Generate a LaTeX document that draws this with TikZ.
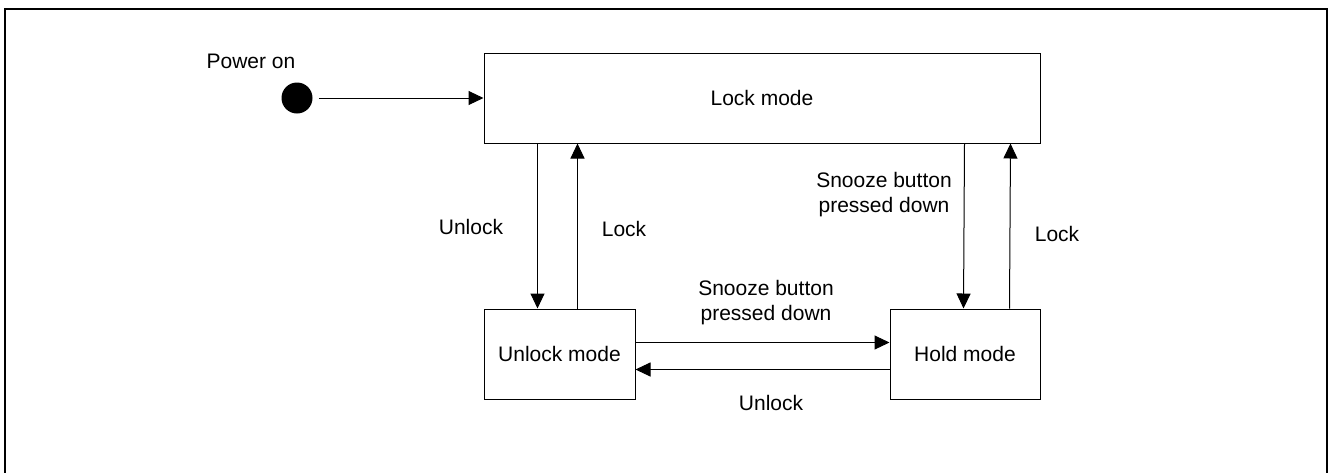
\documentclass[tikz,border=0pt]{standalone}
\usepackage{fontspec}
\setmainfont{Liberation Sans}
\usetikzlibrary{arrows.meta,calc}
\begin{document}
\begin{tikzpicture}[x=0.5pt,y=-0.5pt,
  every node/.style={font=\fontsize{10.5pt}{12.5pt}\selectfont},
  statebox/.style={draw, line width=0.5pt, inner sep=0pt},
  arr/.style={line width=0.5pt, -{Triangle[length=7.5pt,width=7pt]}},
  lbl/.style={align=center, inner sep=0pt}]
\useasboundingbox (0,0) rectangle (1328,472);
% outer frame (open at bottom, clipped)
\draw[line width=1pt] (5,480) -- (5,9) -- (1326.5,9) -- (1326.5,480);
% nodes
\node[lbl] (pwr) at (251,61) {Power on};
\node[circle, fill, minimum size=15.5pt, inner sep=0pt] (start) at (297,98) {};
\node[statebox, minimum width=278pt, minimum height=45pt] (lock) at (762,98) {Lock mode};
\node[statebox, minimum width=75.5pt, minimum height=45pt] (unlock) at (559.5,354) {Unlock mode};
\node[statebox, minimum width=75pt, minimum height=45pt] (hold) at (965,354) {Hold mode};
% connectors
\draw[arr, shorten <=3pt] (start.east) -- (lock.west);
\draw[arr] ($(lock.south west)+(54,0)$) -- ($(unlock.north west)+(54,0)$);
\draw[arr] ($(unlock.north west)+(94,0)$) -- ($(lock.south west)+(94,0)$);
\draw[arr] ($(lock.south east)+(-76,0)$) -- ($(hold.north west)+(74,0)$);
\draw[arr] ($(hold.north west)+(120,0)$) -- ($(lock.south east)+(-30,0)$);
\draw[arr] ($(unlock.north east)+(0,34)$) -- ($(hold.north west)+(0,34)$);
\draw[arr] ($(hold.north west)+(0,61)$) -- ($(unlock.north east)+(0,61)$);
% labels
\node[lbl] (l1) at (471,227) {Unlock};
\node[lbl] (l2) at (624,229) {Lock};
\node[lbl] (l3) at (884,195) {Snooze button\\pressed down};
\node[lbl] (l4) at (1057,234) {Lock};
\node[lbl] (l5) at (766,303) {Snooze button\\pressed down};
\node[lbl] (l6) at (771,403) {Unlock};
\end{tikzpicture}
\end{document}
